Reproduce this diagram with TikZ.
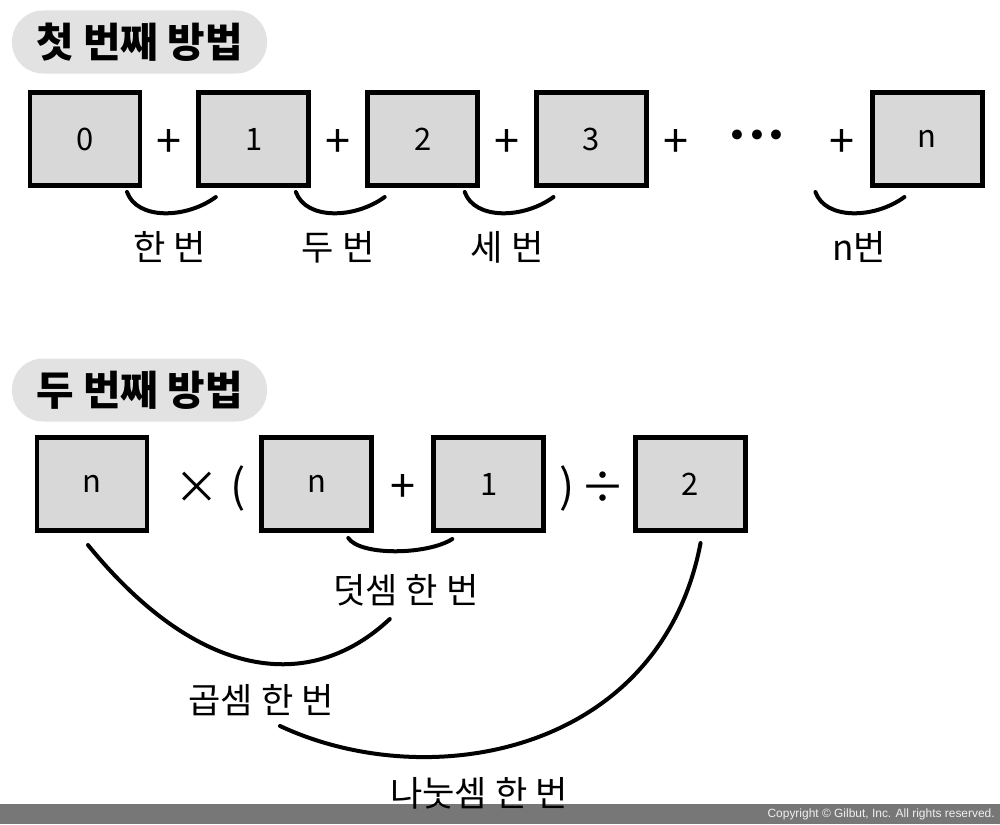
\documentclass[tikz,border=0pt]{standalone}
\usepackage{fontspec}
\setmainfont{Noto Sans CJK KR}
\newfontfamily\symfont{DejaVu Sans}
\newfontfamily\notefont{Liberation Sans}
\usepackage{xcolor}
\usepackage{tikz}
\usetikzlibrary{positioning,calc}
\definecolor{cellgray}{HTML}{D8D8D8}
\definecolor{pillgray}{HTML}{E2E2E2}
\definecolor{bargray}{HTML}{777777}
\tikzset{
  cell/.style={draw,line width=0.12cm,fill=cellgray,minimum width=2.75cm,minimum height=2.33cm,inner sep=0pt,font=\fontsize{22}{22}\selectfont},
  pill/.style={fill=pillgray,rounded corners=0.78cm,minimum width=6.375cm,minimum height=1.575cm,inner sep=0pt,font=\fontsize{29}{29}\selectfont\bfseries},
  op/.style={inner sep=0pt,yshift=-0.1cm,font=\fontsize{32}{32}\selectfont},
  lbl/.style={inner sep=0pt,font=\fontsize{25}{25}\selectfont},
  brace/.style={line width=0.1cm,line cap=round},
}

\begin{document}
\begin{tikzpicture}[x=0.025cm, y=-0.025cm, node distance=1.35cm]
\useasboundingbox (0,0) rectangle (1000,824);
\fill[bargray] (0,804) rectangle (1000,824);
\node[anchor=east, inner sep=0pt, text=white!94!black, font=\notefont\fontsize{8.5}{8.5}\selectfont] (copy) at (995,814) {Copyright © Gilbut, Inc. All rights reserved.};

\node[pill] (first) at (139.5,42) {첫 번째 방법};
\node[cell] (b0) at (85,139) {0};
\node[cell, right=of b0] (b1) {1};
\node[cell, right=of b1] (b2) {2};
\node[cell, right=of b2] (b3) {3};
\node[cell, right=5.525cm of b3] (bn) {n};
\node[op] (p1) at ($(b0.east)!0.5!(b1.west)$) {+};
\node[op] (p2) at ($(b1.east)!0.5!(b2.west)$) {+};
\node[op] (p3) at ($(b2.east)!0.5!(b3.west)$) {+};
\node[op] (p4) at ($(b3.east)+(26.6,0)$) {+};
\node[inner sep=0pt, font=\symfont\fontsize{24}{24}\selectfont] (dots) at (757,139) {•••};
\node[op] (pn) at ($(bn.west)+(-27.6,0)$) {+};
\draw[brace] ($(b0.south east)+(-15.4,4)$) .. controls +(10,28) and +(-30,22) .. ($(b1.south west)+(19.4,9)$);
\draw[brace] ($(b1.south east)+(-15.4,4)$) .. controls +(10,28) and +(-30,22) .. ($(b2.south west)+(19.4,9)$);
\draw[brace] ($(b2.south east)+(-15.4,4)$) .. controls +(10,28) and +(-30,22) .. ($(b3.south west)+(19.4,9)$);
\draw[brace] ($(bn.south west)+(-54.6,4)$) .. controls +(10,28) and +(-30,22) .. ($(bn.south west)+(34.4,9)$);
\node[lbl] (once) at ($(b0.south east)!0.5!(b1.south west)+(0,59)$) {한 번};
\node[lbl] (twice) at ($(b1.south east)!0.5!(b2.south west)+(0,59)$) {두 번};
\node[lbl] (thrice) at ($(b2.south east)!0.5!(b3.south west)+(0,59)$) {세 번};
\node[lbl] (ntimes) at ($(bn.south west)+(-10.6,59)$) {n번};

\node[pill] (second) at (139.5,390) {두 번째 방법};
\node[cell] (c1) at (92,484) {n};
\node[cell, right=2.75cm of c1] (c2) {n};
\node[cell, right=1.425cm of c2] (c3) {1};
\node[cell, right=2.175cm of c3] (c4) {2};
\node[op] (times) at ($(c1.east)+(47.6,0)$) {×};
\node[op] (lpar) at ($(c2.west)+(-21.6,0)$) {(};
\node[op] (plus) at ($(c2.east)!0.5!(c3.west)$) {+};
\node[op] (rpar) at ($(c3.east)+(20.6,0)$) {)};
\node[op] (divide) at ($(c4.west)+(-30.6,0)$) {÷};
\draw[brace] ($(c2.south east)+(-26,5)$) .. controls +(12,18) and +(-25,16) .. ($(c3.south west)+(21,6)$);
\node[lbl] (add) at ($(c2.south east)!0.5!(c3.south west)+(3,57)$) {덧셈 한 번};
\draw[brace] ($(c1.south)+(-4,12)$) .. controls +(110,135) and +(-80,75) .. ($(add.center)+(-16,29)$);
\node[lbl] (mul) at (261,700) {곱셈 한 번};
\draw[brace] ($(c4.south)+(10,10)$) .. controls +(-40,210) and +(150,70) .. ($(mul.center)+(19,26)$);
\node[lbl] (div) at (479,793) {나눗셈 한 번};
\end{tikzpicture}
\end{document}
